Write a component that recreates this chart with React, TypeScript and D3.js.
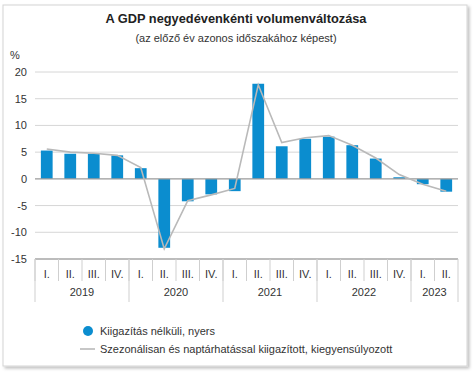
import React from 'react';
import * as d3 from 'd3';

const years = ['2019', '2020', '2021', '2022', '2023'];
const quarters = ['I.', 'II.', 'III.', 'IV.', 'I.', 'II.', 'III.', 'IV.', 'I.', 'II.', 'III.', 'IV.', 'I.', 'II.', 'III.', 'IV.', 'I.', 'II.'];
const yearOf = ['2019', '2019', '2019', '2019', '2020', '2020', '2020', '2020', '2021', '2021', '2021', '2021', '2022', '2022', '2022', '2022', '2023', '2023'];
const raw = [5.3, 4.7, 4.7, 4.4, 2.0, -12.9, -4.2, -2.9, -2.3, 17.8, 6.1, 7.5, 7.9, 6.3, 3.8, 0.3, -1.0, -2.4];
const adjusted = [5.6, 5.0, 4.8, 4.4, 2.1, -13.1, -4.1, -3.0, -1.8, 17.6, 6.8, 7.7, 8.1, 6.3, 3.9, 0.8, -1.0, -2.3];
const yTicks = [20, 15, 10, 5, 0, -5, -10, -15];

const W = 474;
const H = 373;
const left = 35;
const right = 458;
const top = 72;
const bottom = 259;
const font = 'Liberation Sans, Arial, sans-serif';
const blue = '#0b8dcf';
const lineGrey = '#b9b9b9';

export default function App() {
  const idx = quarters.map((_, i) => i);
  const x = d3.scaleBand<number>().domain(idx).range([left, right]).paddingInner(0).paddingOuter(0);
  const y = d3.scaleLinear().domain([-15, 20]).range([bottom, top]);
  const bw = x.bandwidth() * 0.5;
  const cx = (i: number) => (x(i) as number) + x.bandwidth() / 2;

  const line = d3.line<number>()
    .x((_, i) => cx(i))
    .y((d) => y(d));

  // year groups: first and last quarter index
  const groups = years.map((yr) => {
    const ids = idx.filter((i) => yearOf[i] === yr);
    return { yr, first: ids[0], last: ids[ids.length - 1] };
  });

  return (
    <svg width={W} height={H} style={{ position: 'absolute', left: 0, top: 0 }} fontFamily={font}>
      <defs>
        <filter id="sh" x="-5%" y="-5%" width="110%" height="110%">
          <feDropShadow dx="2" dy="2" stdDeviation="1.5" floodColor="#000" floodOpacity="0.25" />
        </filter>
      </defs>
      <rect x={0} y={0} width={W} height={H} fill="#fff" />
      <rect x={3} y={5} width={464} height={361} fill="#fff" stroke="#d4d4d4" strokeWidth={1} filter="url(#sh)" />

      <text x={236} y={23} textAnchor="middle" fontSize={12.8} fontWeight="bold" fill="#222">A GDP negyedévenkénti volumenváltozása</text>
      <text x={236} y={42} textAnchor="middle" fontSize={11} fill="#333">(az előző év azonos időszakához képest)</text>
      <text x={10} y={59} fontSize={11} fill="#333">%</text>

      {yTicks.map((t) => (
        <g key={t}>
          {t !== 0 && t !== -15 && (
            <line x1={left} x2={right} y1={y(t)} y2={y(t)} stroke="#d6d6d6" strokeWidth={1} />
          )}
          <text x={27} y={y(t) + 4} textAnchor="end" fontSize={11} fill="#333">{t}</text>
        </g>
      ))}

      {raw.map((v, i) => (
        <rect
          key={i}
          x={cx(i) - bw / 2}
          y={y(Math.max(0, v))}
          width={bw}
          height={Math.abs(y(v) - y(0))}
          fill={blue}
        />
      ))}

      <line x1={left} x2={right} y1={y(0)} y2={y(0)} stroke="#9a9a9a" strokeWidth={1.2} />
      <path d={line(adjusted) || ''} fill="none" stroke={lineGrey} strokeWidth={1.6} />

      <line x1={left} x2={right} y1={bottom} y2={bottom} stroke="#7a7a7a" strokeWidth={1.2} />
      {idx.map((i) => (
        <g key={i}>
          <line x1={x(i) as number} x2={x(i) as number} y1={bottom} y2={281} stroke="#cfcfcf" />
          <text x={cx(i)} y={278} textAnchor="middle" fontSize={11} fill="#333">{quarters[i]}</text>
        </g>
      ))}
      <line x1={right} x2={right} y1={bottom} y2={302} stroke="#cfcfcf" />
      {groups.map((g) => {
        const x0 = x(g.first) as number;
        const x1 = (x(g.last) as number) + x.bandwidth();
        return (
          <g key={g.yr}>
            <line x1={x0} x2={x0} y1={bottom} y2={302} stroke="#cfcfcf" />
            <text x={(x0 + x1) / 2} y={296} textAnchor="middle" fontSize={11} fill="#333">{g.yr}</text>
          </g>
        );
      })}

      <circle cx={88} cy={331} r={5} fill={blue} />
      <text x={100} y={335} fontSize={11} fill="#333">Kiigazítás nélküli, nyers</text>
      <line x1={80} x2={95} y1={349} y2={349} stroke={lineGrey} strokeWidth={1.6} />
      <text x={100} y={353} fontSize={11} fill="#333">Szezonálisan és naptárhatással kiigazított, kiegyensúlyozott</text>
    </svg>
  );
}
